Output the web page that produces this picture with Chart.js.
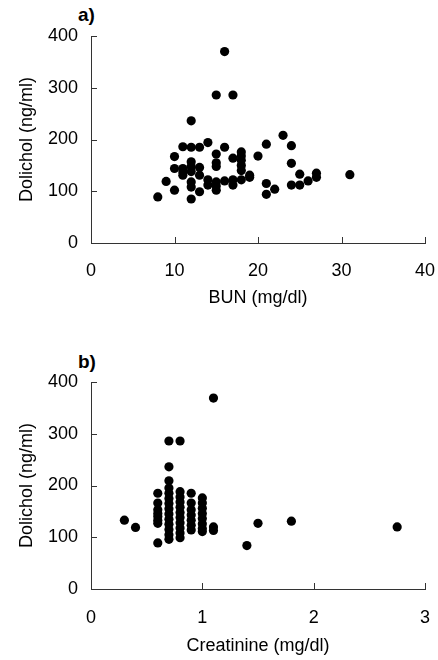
<!DOCTYPE html>
<html>
<head>
<meta charset="utf-8">
<script src="https://cdn.jsdelivr.net/npm/chart.js@4"></script>
<style>
  html, body { margin: 0; padding: 0; background: #fff; }
  body { width: 438px; height: 660px; position: relative; overflow: hidden; font-family: "Liberation Sans", Arial, sans-serif; }
  canvas { position: absolute; left: 0; }
  .panel { position: absolute; font-weight: bold; font-size: 19px; color: #000; }
</style>
</head>
<body>
<div class="panel" style="left:78px; top:4px;">a)</div>
<div class="panel" style="left:78px; top:351px;">b)</div>
<canvas id="c1" width="438" height="330" style="top:0;"></canvas>
<canvas id="c2" width="438" height="330" style="top:330px;"></canvas>
<script>
// Panel a: BUN vs Dolichol
const bunValues = [8, 9, 10, 10, 10, 11, 11, 11, 11, 12, 12, 12, 12, 12, 12, 12, 12, 13, 13, 13, 13, 14, 14, 14,
  15, 15, 15, 15, 15, 15, 15, 16, 16, 16, 17, 17, 17, 17, 18, 18, 18, 18, 18, 18, 19, 19, 20, 21, 21, 21,
  22, 23, 24, 24, 24, 25, 25, 26, 27, 27, 31];
const bunDolichol = [89, 119, 102, 144, 167, 186, 144, 137, 131, 236, 185, 157, 148, 138, 118, 108, 85, 185, 146, 131, 99, 194, 122, 112,
  286, 172, 155, 148, 118, 110, 102, 370, 185, 120, 286, 164, 122, 112, 176, 168, 160, 150, 140, 122, 131, 127, 168, 191, 115, 94,
  104, 208, 188, 154, 112, 133, 112, 120, 135, 127, 132];

// Panel b: Creatinine vs Dolichol
const creatinineValues = [0.3, 0.4,
  0.6, 0.6, 0.6, 0.6, 0.6, 0.6, 0.6, 0.6,
  0.7, 0.7, 0.7, 0.7, 0.7, 0.7, 0.7, 0.7, 0.7, 0.7, 0.7, 0.7, 0.7, 0.7,
  0.8, 0.8, 0.8, 0.8, 0.8, 0.8, 0.8, 0.8, 0.8, 0.8, 0.8,
  0.9, 0.9, 0.9, 0.9, 0.9, 0.9, 0.9,
  1.0, 1.0, 1.0, 1.0, 1.0, 1.0, 1.0, 1.0,
  1.1, 1.1, 1.1,
  1.4, 1.5, 1.8, 2.75];
const creatinineDolichol = [133, 119,
  185, 166, 153, 146, 140, 133, 127, 89,
  286, 236, 209, 195, 185, 175, 165, 155, 145, 135, 125, 115, 105, 96,
  286, 188, 178, 168, 158, 148, 138, 128, 118, 108, 99,
  185, 166, 153, 143, 133, 123, 114,
  176, 166, 156, 146, 136, 126, 117, 111,
  369, 120, 113,
  84, 127, 131, 120];

const bunTicks = [0, 10, 20, 30, 40];
const creatinineTicks = [0, 1, 2, 3];
const dolicholTicks = [0, 100, 200, 300, 400];

const AXIS = '#333333';
const FONT = { family: '"Liberation Sans", Arial, sans-serif', size: 18 };

const innerTicks = {
  id: 'innerTicks',
  afterDraw(chart) {
    const ctx = chart.ctx, xs = chart.scales.x, ys = chart.scales.y, a = chart.chartArea;
    ctx.save();
    ctx.strokeStyle = AXIS;
    ctx.lineWidth = 1;
    ctx.beginPath();
    xs.ticks.forEach(t => {
      const p = Math.round(xs.getPixelForValue(t.value)) + 0.5;
      ctx.moveTo(p, a.bottom);
      ctx.lineTo(p, a.bottom - 6);
    });
    ys.ticks.forEach(t => {
      const p = Math.round(ys.getPixelForValue(t.value)) + 0.5;
      ctx.moveTo(a.left, p);
      ctx.lineTo(a.left + 6, p);
    });
    ctx.stroke();
    ctx.restore();
  }
};

function makeChart(id, xs, ys, xTicks, xMax, xTitle, opts) {
  const data = xs.map((x, i) => ({ x: x, y: ys[i] }));
  return new Chart(document.getElementById(id), {
    type: 'scatter',
    data: {
      datasets: [{
        data: data,
        backgroundColor: '#000',
        borderWidth: 0,
        pointRadius: 4.6,
        pointHoverRadius: 4.6
      }]
    },
    options: {
      responsive: false,
      animation: false,
      events: [],
      layout: { padding: { top: opts.top, right: 13, left: 0, bottom: 0 } },
      plugins: { legend: { display: false }, tooltip: { enabled: false } },
      scales: {
        x: {
          type: 'linear',
          min: 0, max: xMax,
          afterBuildTicks: s => { s.ticks = xTicks.map(v => ({ value: v })); },
          afterFit: s => { s.height = opts.xHeight; s.paddingLeft = 0; s.paddingRight = 0; },
          grid: { display: false, drawTicks: false },
          border: { display: true, color: AXIS, width: 1 },
          ticks: { color: '#000', font: FONT, padding: opts.xTickPad, maxRotation: 0, autoSkip: false },
          title: { display: true, text: xTitle, color: '#000', font: FONT, padding: { top: 0, bottom: opts.xTitlePad } }
        },
        y: {
          type: 'linear',
          min: 0, max: 400,
          afterBuildTicks: s => { s.ticks = dolicholTicks.map(v => ({ value: v })); },
          afterFit: s => { s.width = 91; s.paddingTop = 0; s.paddingBottom = 0; },
          grid: { display: false, drawTicks: false },
          border: { display: true, color: AXIS, width: 1 },
          ticks: { color: '#000', font: FONT, padding: 13 },
          title: { display: true, text: 'Dolichol (ng/ml)', color: '#000', font: FONT, padding: { top: 16, bottom: 0 } }
        }
      }
    },
    plugins: [innerTicks]
  });
}

makeChart('c1', bunValues, bunDolichol, bunTicks, 40, 'BUN (mg/dl)', { top: 36, xHeight: 87, xTickPad: 17, xTitlePad: 21 });
makeChart('c2', creatinineValues, creatinineDolichol, creatinineTicks, 3, 'Creatinine (mg/dl)', { top: 52, xHeight: 71, xTickPad: 18, xTitlePad: 3 });
</script>
</body>
</html>
